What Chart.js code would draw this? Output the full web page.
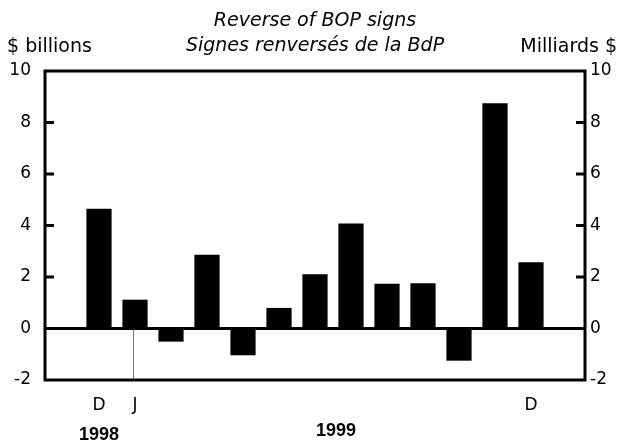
<!DOCTYPE html>
<html lang="en">

<head>
  <meta charset="UTF-8">
  <meta name="viewport" content="width=device-width, initial-scale=1.0">
  <title>Reverse of BOP signs</title>
  <script src="https://cdn.jsdelivr.net/npm/chart.js@4.4.0/dist/chart.umd.min.js"></script>
  <style>
    html, body { margin: 0; padding: 0; background: #fff; }
    #wrap { width: 618px; height: 441px; }
  </style>
</head>

<body>
  <div id="wrap"><canvas id="chart"></canvas></div>

  <script>
    // Dec 1998 .. Dec 1999, one empty slot at each end like the original
    const months = ['', 'Dec 1998', 'Jan 1999', 'Feb 1999', 'Mar 1999', 'Apr 1999', 'May 1999', 'Jun 1999',
      'Jul 1999', 'Aug 1999', 'Sep 1999', 'Oct 1999', 'Nov 1999', 'Dec 1999', ''];
    const values = [null, 4.65, 1.12, -0.51, 2.86, -1.04, 0.80, 2.11, 4.08, 1.74, 1.76, -1.25, 8.75, 2.57, null];
    const tickLabels = ['', 'D', 'J', '', '', '', '', '', '', '', '', '', '', 'D', ''];
    const yTicks = [-2, 0, 2, 4, 6, 8, 10];
    const years = ['1998', '1999'];
    const yearFirst = [1, 2];
    const yearLast = [1, 13];

    const FONT = "'DejaVu Sans', sans-serif";
    Chart.defaults.font.family = FONT;
    Chart.defaults.color = '#000';

    // frame, inward ticks, J separator, unit labels and years
    const extras = {
      id: 'extras',
      afterDraw(chart) {
        const { ctx, chartArea: a } = chart;
        const x = chart.scales.x, y = chart.scales.y;
        ctx.save();
        ctx.strokeStyle = '#000';
        ctx.lineWidth = 3;
        ctx.strokeRect(a.left, a.top, a.right - a.left, a.bottom - a.top);

        yTicks.forEach(v => {
          if (v === 0 || v === yTicks[0] || v === yTicks[yTicks.length - 1]) return;
          const py = y.getPixelForValue(v);
          ctx.beginPath();
          ctx.moveTo(a.left, py); ctx.lineTo(a.left + 9, py);
          ctx.moveTo(a.right - 9, py); ctx.lineTo(a.right, py);
          ctx.stroke();
        });

        // thin line marking the year change
        const jx = Math.round(x.getPixelForValue(yearFirst[1])) - 1.5;
        ctx.strokeStyle = '#777';
        ctx.lineWidth = 1;
        ctx.beginPath();
        ctx.moveTo(jx, y.getPixelForValue(0) + 1);
        ctx.lineTo(jx, a.bottom - 1);
        ctx.stroke();

        ctx.fillStyle = '#000';
        ctx.textBaseline = 'middle';
        ctx.font = '19px ' + FONT;
        ctx.textAlign = 'left';
        ctx.fillText('$ billions', 7, 47);
        ctx.textAlign = 'right';
        ctx.fillText('Milliards $', 617, 47);

        ctx.font = "bold 18px 'Liberation Sans', Arial, sans-serif";
        ctx.textAlign = 'center';
        years.forEach((yr, i) => {
          const cx = (x.getPixelForValue(yearFirst[i]) + x.getPixelForValue(yearLast[i])) / 2;
          ctx.fillText(yr, cx + (i === 0 ? 0 : 3), i === 0 ? 435 : 431);
        });
        ctx.restore();
      }
    };

    const ctx = document.getElementById('chart').getContext('2d');
    const myChart = new Chart(ctx, {
      type: 'bar',
      data: {
        labels: months,
        datasets: [{
          label: 'Reverse of BOP signs',
          data: values,
          backgroundColor: '#000',
          borderWidth: 0,
          barPercentage: 0.7,
          categoryPercentage: 1.0,
          yAxisID: 'y'
        }]
      },
      options: {
        responsive: true,
        maintainAspectRatio: false,
        animation: false,
        layout: { padding: 0 },
        plugins: {
          legend: { display: false },
          tooltip: { enabled: false },
          title: {
            display: true,
            fullSize: false,
            text: ['Reverse of BOP signs', 'Signes renversés de la BdP'],
            font: { size: 19, style: 'italic', weight: 'normal', lineHeight: '25px' },
            color: '#000',
            padding: { top: 9, bottom: 12 }
          }
        },
        scales: {
          x: {
            grid: { display: false },
            border: { display: false },
            ticks: {
              autoSkip: false,
              maxRotation: 0,
              padding: 7,
              font: { size: 17 },
              callback: (v, i) => tickLabels[i]
            },
            afterFit: s => { s.height = 61; }
          },
          y: {
            position: 'left',
            min: yTicks[0],
            max: yTicks[yTicks.length - 1],
            ticks: { stepSize: yTicks[1] - yTicks[0], padding: 14, font: { size: 17 } },
            grid: {
              drawTicks: false,
              lineWidth: 3,
              color: c => (c.tick && c.tick.value === 0 ? '#000' : 'rgba(0,0,0,0)')
            },
            border: { display: false },
            afterFit: s => { s.width = 45; }
          },
          y2: {
            position: 'right',
            min: yTicks[0],
            max: yTicks[yTicks.length - 1],
            ticks: { stepSize: yTicks[1] - yTicks[0], padding: 5, font: { size: 17 } },
            grid: { display: false, drawTicks: false },
            border: { display: false },
            afterFit: s => { s.width = 33; }
          }
        }
      },
      plugins: [extras]
    });
  </script>
</body>

</html>
